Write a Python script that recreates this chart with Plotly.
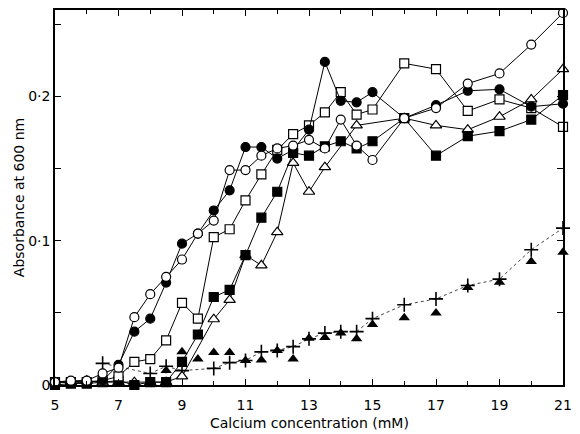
import plotly.graph_objects as go

conc = [5, 5.5, 6, 6.5, 7, 7.5, 8, 8.5, 9, 9.5, 10, 10.5, 11, 11.5, 12, 12.5,
        13, 13.5, 14, 14.5, 15, 16, 17, 18, 19, 20, 21]

open_circle = [0.002, 0.003, 0.003, 0.008, 0.012, 0.047, 0.063, 0.075, 0.087, 0.105,
               0.114, 0.149, 0.149, 0.159, 0.164, 0.166, 0.170, 0.164, 0.184, 0.166,
               0.156, 0.185, 0.192, 0.209, 0.216, 0.236, 0.258]
filled_circle = [0.002, 0.002, 0.002, 0.003, 0.014, 0.037, 0.046, 0.071, 0.098, 0.105,
                 0.121, 0.135, 0.165, 0.165, 0.157, 0.163, 0.177, 0.224, 0.197, 0.196,
                 0.203, 0.185, 0.194, 0.204, 0.205, 0.193, 0.195]
open_square = [0.002, 0.002, 0.002, 0.003, 0.006, 0.016, 0.018, 0.031, 0.057, 0.046,
               0.1025, 0.108, 0.128, 0.146, 0.163, 0.174, 0.180, 0.189, 0.203, 0.1875,
               0.191, 0.223, 0.219, 0.190, 0.198, 0.192, 0.179]
filled_square = [0.000, 0.001, 0.001, 0.002, 0.003, 0.000, 0.002, 0.002, 0.016, 0.035,
                 0.061, 0.066, 0.090, 0.116, 0.134, 0.161, 0.159, 0.1655, 0.169, 0.164,
                 0.169, 0.185, 0.159, 0.1725, 0.176, 0.184, 0.201]
open_triangle = [0.002, 0.002, 0.003, 0.002, 0.002, 0.002, 0.002, 0.002, 0.006, None,
                 0.0456, 0.059, 0.090, 0.083, 0.106, 0.154, 0.134, 0.151, None, 0.180,
                 None, 0.185, 0.180, 0.177, 0.186, 0.198, 0.219]
filled_triangle = [0.002, 0.002, 0.003, 0.002, 0.002, 0.001, 0.002, 0.010, 0.023, 0.018,
                   0.0225, 0.0225, 0.017, 0.0174, 0.024, 0.018, 0.0324, 0.033, 0.036, 0.032,
                   0.042, 0.0467, 0.050, 0.0676, 0.0713, 0.0856, 0.092]
plus = [None, None, None, 0.015, None, None, 0.008, 0.013, 0.010, None,
        0.0115, 0.0155, 0.017, 0.023, 0.024, 0.0266, 0.032, 0.036, 0.037, 0.037,
        0.046, 0.0556, 0.0597, 0.069, 0.0734, 0.0938, 0.1088]

x_tick_vals = [5, 7, 9, 11, 13, 15, 17, 19, 21]
x_tick_text = ["5", "7", "9", "11", "13", "15", "17", "19", "21"]
y_tick_vals = [0, 0.1, 0.2]
y_tick_text = ["0", "0·1", "0·2"]
x_title = "Calcium concentration (mM)"
y_title = "Absorbance at 600 nm"

fig = go.Figure()

# dotted line through the + series
fig.add_trace(go.Scatter(x=conc, y=plus, mode="lines+markers", connectgaps=True,
                         line=dict(color="#444", width=1, dash="dot"),
                         marker=dict(symbol="cross-thin", size=10,
                                     line=dict(color="black", width=1.6)),
                         cliponaxis=False, showlegend=False))
fig.add_trace(go.Scatter(x=conc, y=filled_triangle, mode="markers",
                         marker=dict(symbol="triangle-up", size=10, color="black"),
                         cliponaxis=False, showlegend=False))

series = [
    (open_triangle, "triangle-up", "white", 10),
    (filled_square, "square", "black", 9),
    (open_square, "square", "white", 9),
    (filled_circle, "circle", "black", 9),
    (open_circle, "circle", "white", 9),
]
for ys, sym, col, sz in series:
    fig.add_trace(go.Scatter(x=conc, y=ys, mode="lines+markers", connectgaps=True,
                             line=dict(color="black", width=1),
                             marker=dict(symbol=sym, size=sz, color=col,
                                         line=dict(color="black", width=1.2)),
                             cliponaxis=False, showlegend=False))

# the page body adds an 8px offset, so the figure is sized to fit the window
fig.update_layout(
    width=564, height=426,
    margin=dict(l=47, r=9, t=2, b=49),
    paper_bgcolor="white", plot_bgcolor="white",
    font=dict(family="DejaVu Sans", size=14, color="black"),
    annotations=[dict(text=x_title, xref="paper", yref="paper", x=0.5, y=0,
                      xanchor="center", yanchor="top", yshift=-28, showarrow=False,
                      font=dict(size=14))],
)
fig.update_xaxes(range=[5, 21], tickvals=x_tick_vals, ticktext=x_tick_text,
                 ticks="inside", ticklen=6, tickcolor="black", automargin=False,
                 ticklabelstandoff=6,
                 minor=dict(dtick=1, ticks="inside", ticklen=4, tickcolor="black"),
                 showline=True, linecolor="black", linewidth=1.5, mirror="ticks",
                 showgrid=False, zeroline=False)
fig.update_yaxes(range=[0, 0.26], tickvals=y_tick_vals, ticktext=y_tick_text,
                 ticks="inside", ticklen=6, tickcolor="black", automargin=False,
                 minor=dict(tickvals=[0.05, 0.15, 0.25], ticks="inside", ticklen=6,
                            tickcolor="black"),
                 showline=True, linecolor="black", linewidth=1.5, mirror="ticks",
                 showgrid=False, zeroline=False,
                 title=dict(text=y_title, standoff=0, font=dict(size=14)))

fig.write_html("out.html")
